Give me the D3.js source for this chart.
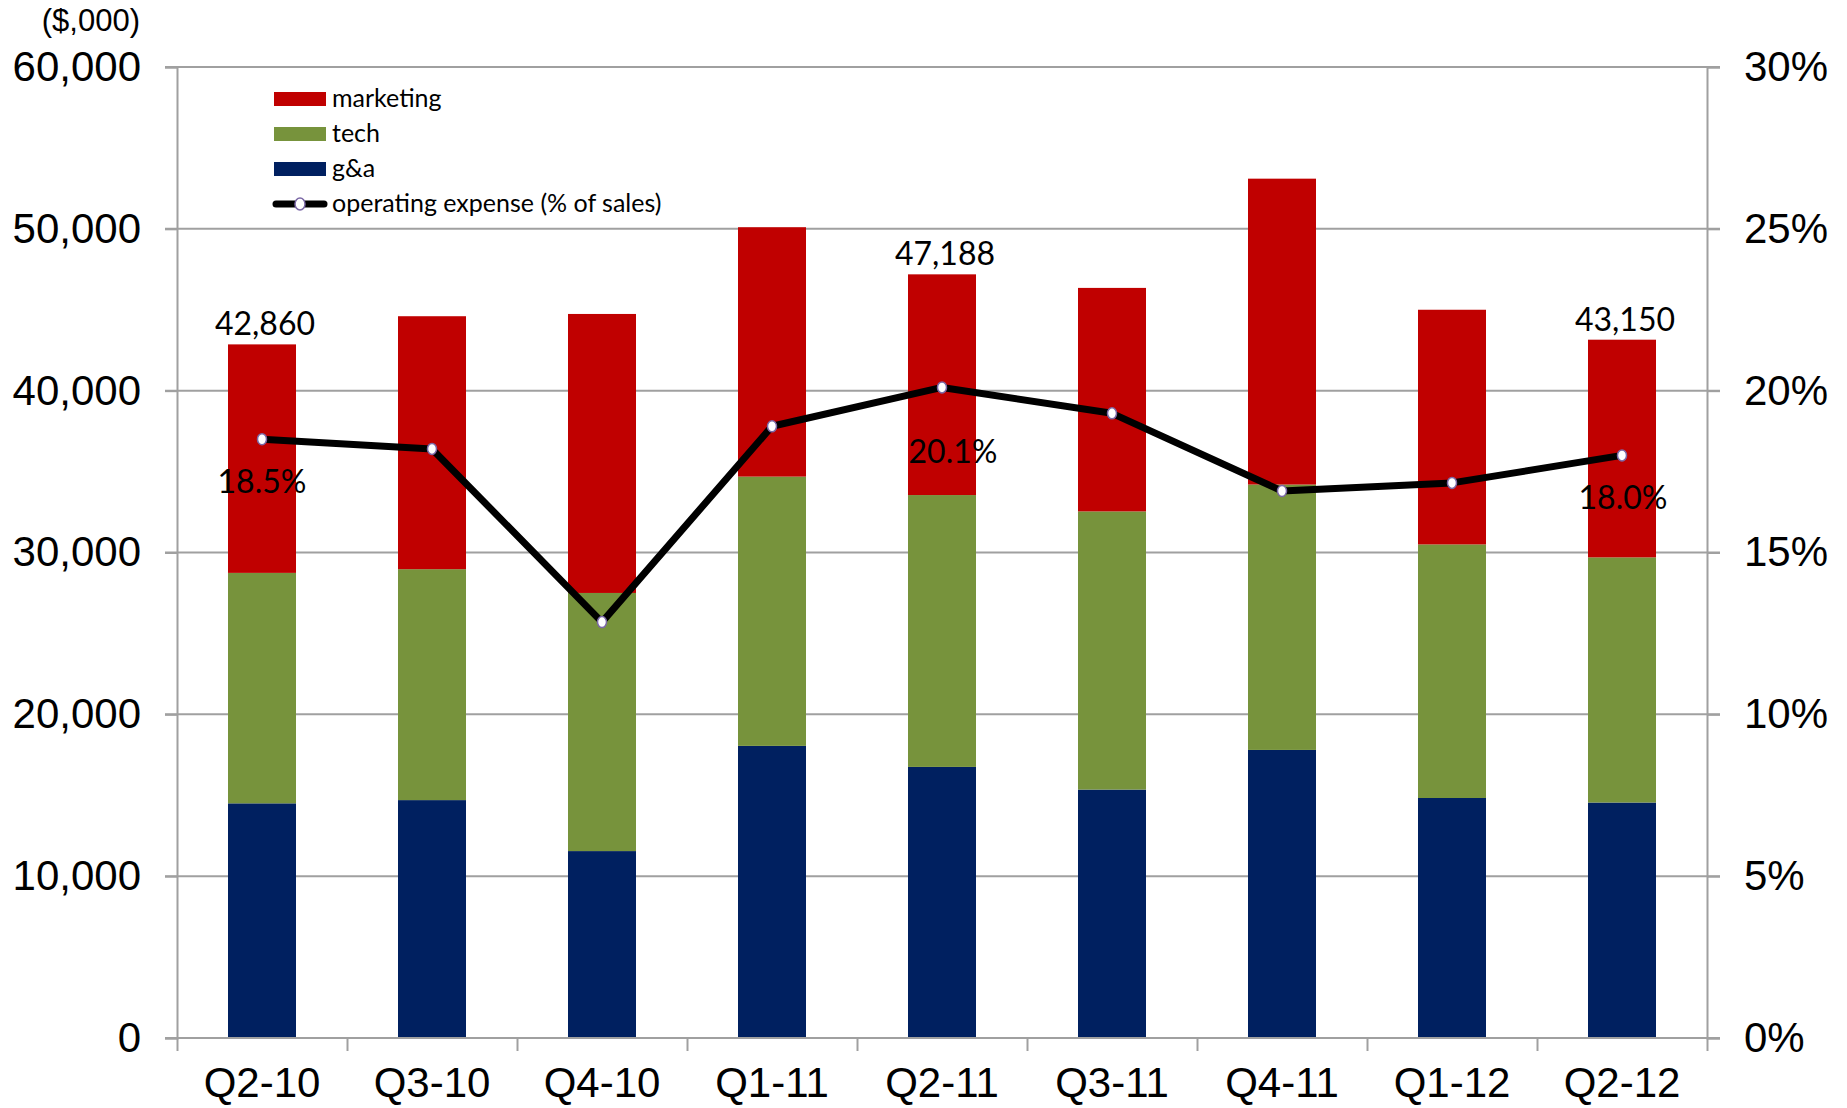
<!DOCTYPE html>
<html>
<head>
<meta charset="utf-8">
<script src="https://cdn.jsdelivr.net/npm/d3@7"></script>
<style>
  body { margin: 0; background: #fff; }
  .axis text { font-family: "Liberation Sans", Arial, sans-serif; font-size: 42px; fill: #000; }
  .axis path, .axis line { stroke: #a0a0a0; stroke-width: 2; }
  .grid line { stroke: #a0a0a0; stroke-width: 2; }
  .lbl { font-family: Lato, "Open Sans", sans-serif; font-size: 32px; fill: #000; }
  .legend text { font-family: Lato, "Open Sans", sans-serif; font-size: 25px; fill: #000; }
</style>
</head>
<body>
<div class="chart"></div>
<script>
var categories = ["Q2-10", "Q3-10", "Q4-10", "Q1-11", "Q2-11", "Q3-11", "Q4-11", "Q1-12", "Q2-12"];
var gna       = [14500, 14700, 11550, 18050, 16750, 15350, 17800, 14830, 14550];
var tech      = [14240, 14270, 15950, 16640, 16800, 17190, 16400, 15670, 15150];
var marketing = [14120, 15630, 17240, 15410, 13638, 13810, 18900, 14500, 13450];
var opexPct   = [18.5, 18.2, 12.85, 18.9, 20.1, 19.3, 16.9, 17.15, 18.0];
var totalLabels = ["42,860", null, null, null, "47,188", null, null, null, "43,150"];
var pctLabels   = ["18.5%", null, null, null, "20.1%", null, null, null, "18.0%"];
var yTicks   = [0, 10000, 20000, 30000, 40000, 50000, 60000];
var pctTicks = [0, 5, 10, 15, 20, 25, 30];

var svgWidth = 1847;
var svgHeight = 1108;
var margin = { top: 67, right: 140, bottom: 70, left: 177 };
var width = svgWidth - margin.left - margin.right;
var height = svgHeight - margin.top - margin.bottom;

var svg = d3.select(".chart")
    .append("svg")
    .attr("width", svgWidth)
    .attr("height", svgHeight);

var chartGroup = svg.append("g")
    .attr("transform", `translate(${margin.left}, ${margin.top})`);

var x = d3.scaleBand()
    .domain(categories)
    .range([0, width])
    .paddingInner(0.6)
    .paddingOuter(0.3);
var xIdx = d3.scaleLinear().domain([0, categories.length]).range([0, width]);
var y = d3.scaleLinear().domain([0, 60000]).range([height, 0]);
var yPct = d3.scaleLinear().domain([0, 30]).range([height, 0]);
var cx = i => x(categories[i]) + x.bandwidth() / 2;

// gridlines
chartGroup.append("g")
    .attr("class", "grid")
    .selectAll("line")
    .data(yTicks)
    .enter()
    .append("line")
    .attr("x1", -12)
    .attr("x2", width + 13)
    .attr("y1", d => y(d))
    .attr("y2", d => y(d));

// stacked bars
var data = categories.map((c, i) => ({ cat: c, gna: gna[i], tech: tech[i], marketing: marketing[i] }));
var keys = ["gna", "tech", "marketing"];
var colors = { gna: "#002060", tech: "#77933C", marketing: "#C00000" };
var stacked = d3.stack().keys(keys)(data);

chartGroup.append("g").selectAll("g")
    .data(stacked)
    .enter()
    .append("g")
    .attr("fill", d => colors[d.key])
    .selectAll("rect")
    .data(d => d)
    .enter()
    .append("rect")
    .attr("x", d => x(d.data.cat))
    .attr("width", x.bandwidth())
    .attr("y", d => y(d[1]))
    .attr("height", d => y(d[0]) - y(d[1]));

// axes
chartGroup.append("g")
    .attr("class", "axis")
    .call(d3.axisLeft(y).tickValues(yTicks).tickSize(12).tickPadding(24).tickFormat(d3.format(",")));

chartGroup.append("g")
    .attr("class", "axis")
    .attr("transform", `translate(${width}, 0)`)
    .call(d3.axisRight(yPct).tickValues(pctTicks).tickSize(13).tickPadding(24).tickFormat(d => d + "%"));

var xTickAxis = chartGroup.append("g")
    .attr("class", "axis")
    .attr("transform", `translate(0, ${height})`)
    .call(d3.axisBottom(xIdx).tickValues(d3.range(categories.length + 1)).tickSize(13).tickFormat(""));
xTickAxis.select(".domain").remove();

chartGroup.append("line")
    .attr("x1", -12).attr("x2", width + 13)
    .attr("y1", height).attr("y2", height)
    .attr("stroke", "#a0a0a0").attr("stroke-width", 2);

var xLabels = chartGroup.append("g")
    .attr("class", "axis")
    .attr("transform", `translate(0, ${height})`)
    .call(d3.axisBottom(x).tickSize(0).tickPadding(29));
xLabels.select(".domain").remove();

// operating expense line
var line = d3.line()
    .x((d, i) => cx(i))
    .y(d => yPct(d));

chartGroup.append("path")
    .datum(opexPct)
    .attr("fill", "none")
    .attr("stroke", "#000")
    .attr("stroke-width", 7)
    .attr("stroke-linejoin", "round")
    .attr("d", line);

chartGroup.append("g").selectAll("ellipse")
    .data(opexPct)
    .enter()
    .append("ellipse")
    .attr("cx", (d, i) => cx(i))
    .attr("cy", d => yPct(d))
    .attr("rx", 4.5)
    .attr("ry", 5.5)
    .attr("fill", "#fff")
    .attr("stroke", "#7b68a6")
    .attr("stroke-width", 1.5);

// data labels
var totals = categories.map((c, i) => gna[i] + tech[i] + marketing[i]);
var totalRows = totalLabels.map((t, i) => ({ t: t, i: i })).filter(d => d.t);
chartGroup.append("g").selectAll("text")
    .data(totalRows)
    .enter()
    .append("text")
    .attr("class", "lbl")
    .attr("text-anchor", "middle")
    .attr("x", d => cx(d.i) + 3)
    .attr("y", d => y(totals[d.i]) - 9)
    .text(d => d.t);

var pctOffsets = [54, 0, 0, 0, 76, 0, 0, 0, 54];
var pctDx = [0, 0, 0, 0, 11, 0, 0, 0, 1];
var pctRows = pctLabels.map((t, i) => ({ t: t, i: i })).filter(d => d.t);
chartGroup.append("g").selectAll("text")
    .data(pctRows)
    .enter()
    .append("text")
    .attr("class", "lbl")
    .attr("text-anchor", "middle")
    .attr("x", d => cx(d.i) + pctDx[d.i])
    .attr("y", d => yPct(opexPct[d.i]) + pctOffsets[d.i])
    .text(d => d.t);

// unit label
svg.append("text")
    .attr("x", 140)
    .attr("y", 31)
    .attr("text-anchor", "end")
    .attr("font-family", "Liberation Sans, Arial, sans-serif")
    .attr("font-size", 31)
    .text("($,000)");

// legend
var legendItems = [
    { name: "marketing", color: "#C00000" },
    { name: "tech", color: "#77933C" },
    { name: "g&a", color: "#002060" }
];
var legend = svg.append("g").attr("class", "legend");
legendItems.forEach(function(item, i) {
    var ly = 99 + i * 35;
    legend.append("rect")
        .attr("x", 274).attr("y", ly - 7)
        .attr("width", 52).attr("height", 14)
        .attr("fill", item.color);
    legend.append("text")
        .attr("x", 332).attr("y", ly + 8)
        .text(item.name);
});
legend.append("line")
    .attr("x1", 276).attr("x2", 324)
    .attr("y1", 204).attr("y2", 204)
    .attr("stroke", "#000").attr("stroke-width", 7)
    .attr("stroke-linecap", "round");
legend.append("ellipse")
    .attr("cx", 300).attr("cy", 204)
    .attr("rx", 5).attr("ry", 6)
    .attr("fill", "#fff").attr("stroke", "#7b68a6").attr("stroke-width", 1.5);
legend.append("text")
    .attr("x", 332).attr("y", 212)
    .text("operating expense (% of sales)");
</script>
</body>
</html>
